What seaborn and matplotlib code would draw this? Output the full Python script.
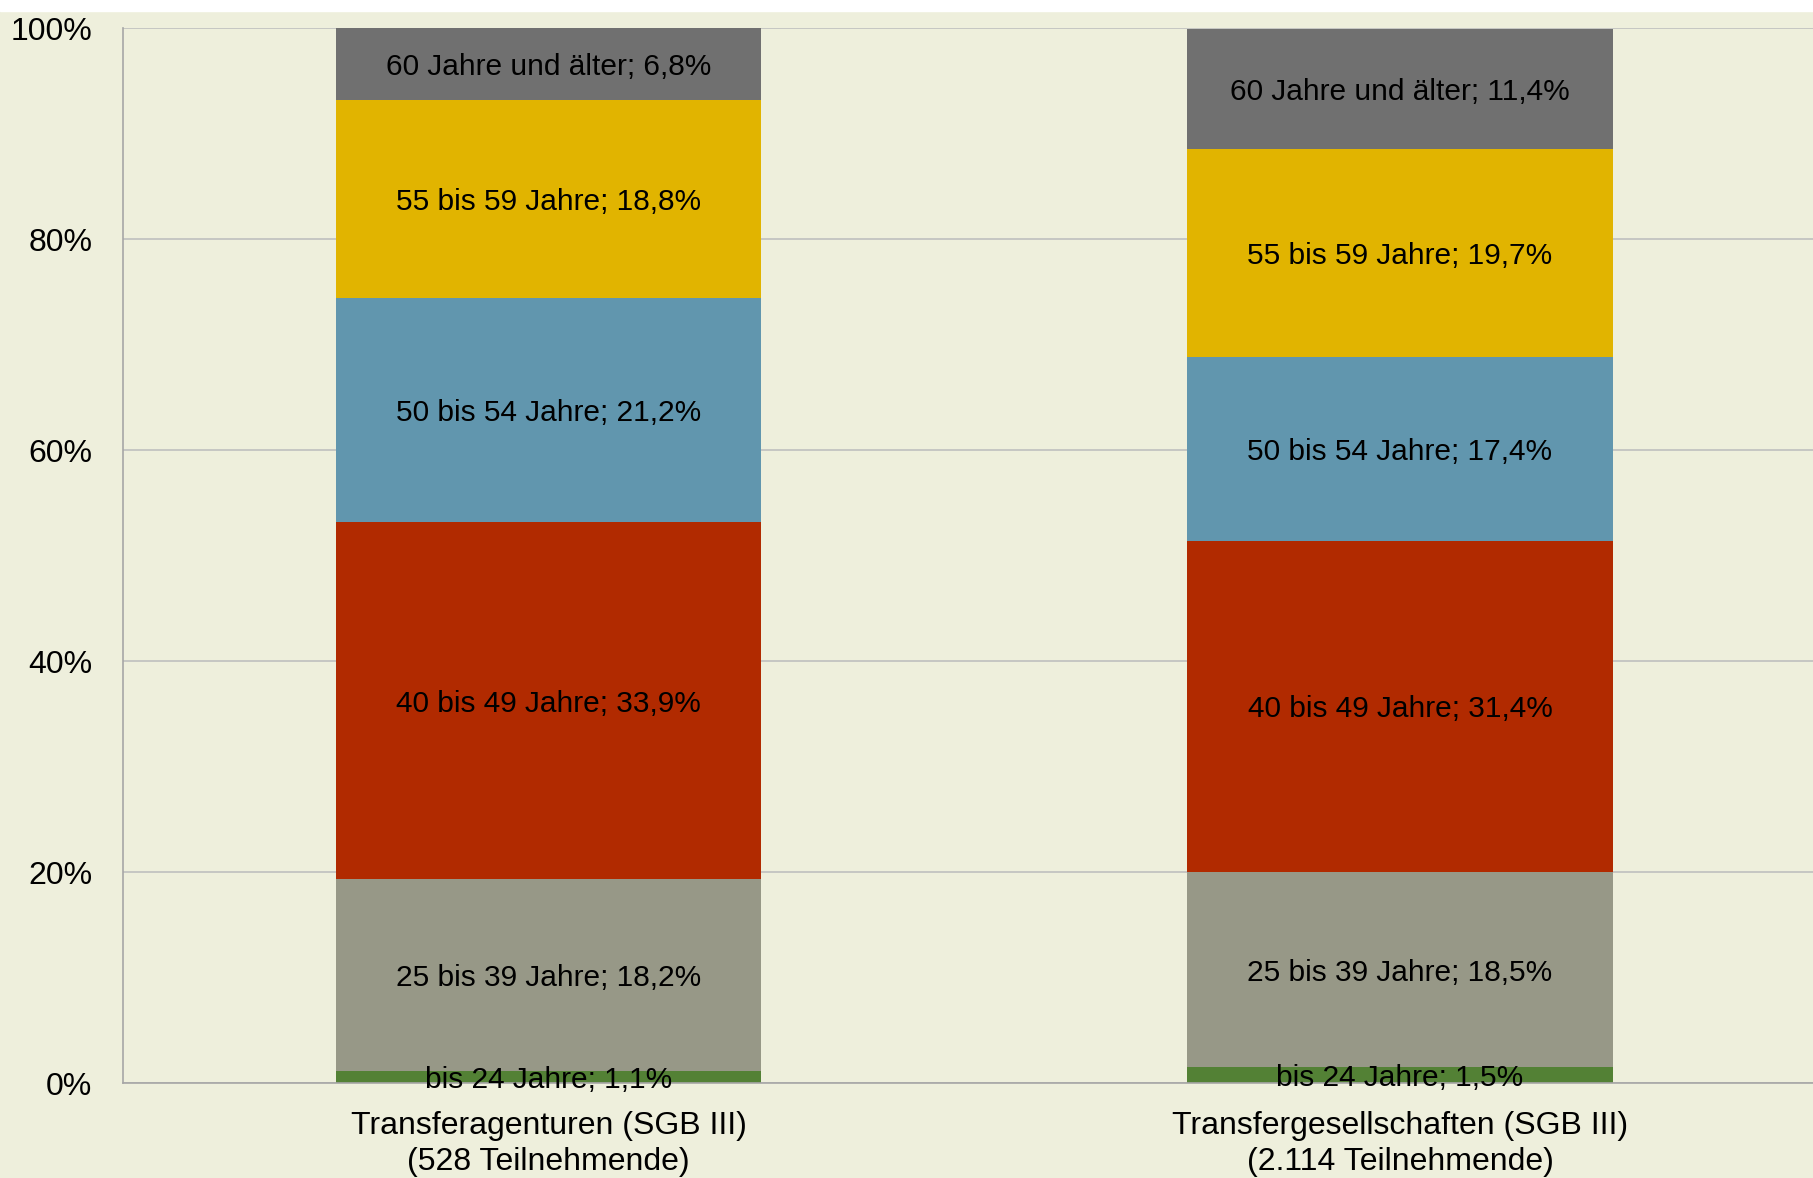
import seaborn as sns
import matplotlib.pyplot as plt
import numpy as np
import pandas as pd
from matplotlib.patches import Rectangle
from matplotlib.ticker import PercentFormatter

# categorie (asse x) e classi di età
groups = ['Transferagenturen (SGB III)\n(528 Teilnehmende)',
          'Transfergesellschaften (SGB III)\n(2.114 Teilnehmende)']
ages = ['bis 24 Jahre', '25 bis 39 Jahre', '40 bis 49 Jahre',
        '50 bis 54 Jahre', '55 bis 59 Jahre', '60 Jahre und älter']

# quote percentuali, dal basso verso l'alto
agenturen = [1.1, 18.2, 33.9, 21.2, 18.8, 6.8]
gesellschaften = [1.5, 18.5, 31.4, 17.4, 19.7, 11.4]

colors = ['#538135', '#979887', '#B12A00', '#6196AE', '#E1B400', '#707070']
bg = '#EEEFDC'

sns.set_style('white')
plt.rcParams['font.family'] = ['Liberation Sans', 'DejaVu Sans']

vals = np.array([agenturen, gesellschaften])
cum = vals.cumsum(axis=1)

fig = plt.figure(figsize=(18.13, 11.78), dpi=100, facecolor=bg)
fig.patches.append(Rectangle((0, 0.9906), 1, 0.01, transform=fig.transFigure,
                             color='white', zorder=0))
ax = fig.add_axes([0.0678, 0.0806, 0.9322, 0.8956])
ax.set_facecolor(bg)

# barre sovrapposte: si disegnano le somme cumulate dall'alto verso il basso
for i in range(len(ages) - 1, -1, -1):
    df = pd.DataFrame({'group': groups, 'value': cum[:, i]})
    sns.barplot(data=df, x='group', y='value', color=colors[i],
                width=0.5, saturation=1, linewidth=0, edgecolor='none',
                ax=ax, zorder=2)

for g in range(len(groups)):
    for i, age in enumerate(ages):
        center = cum[g, i] - vals[g, i] / 2
        label = f'{age}; {vals[g, i]:.1f}%'.replace('.', ',')
        ax.text(g, center, label, ha='center', va='center_baseline',
                fontsize=21.5, color='black', zorder=3)

ax.set_ylim(0, 100)
ax.set_xlim(-0.5, 1.485)
ax.yaxis.set_major_locator(plt.MultipleLocator(20))
ax.yaxis.set_major_formatter(PercentFormatter(decimals=0))
ax.grid(axis='y', color='#BFBFBF', linewidth=1.2, zorder=0)
ax.set_axisbelow(True)
ax.set_xlabel('')
ax.set_ylabel('')
ax.tick_params(axis='y', length=0, pad=22, labelsize=23, labelcolor='black')
ax.tick_params(axis='x', length=0, pad=20, labelsize=23, labelcolor='black')
for t in ax.get_xticklabels():
    t.set_linespacing(1.25)

for side in ['top', 'right']:
    ax.spines[side].set_visible(False)
ax.spines['left'].set_color('#A6A6A6')
ax.spines['bottom'].set_color('#A6A6A6')
ax.spines['left'].set_linewidth(1.2)
ax.spines['bottom'].set_linewidth(1.2)

fig.savefig('out.png', dpi=100, facecolor=bg)
